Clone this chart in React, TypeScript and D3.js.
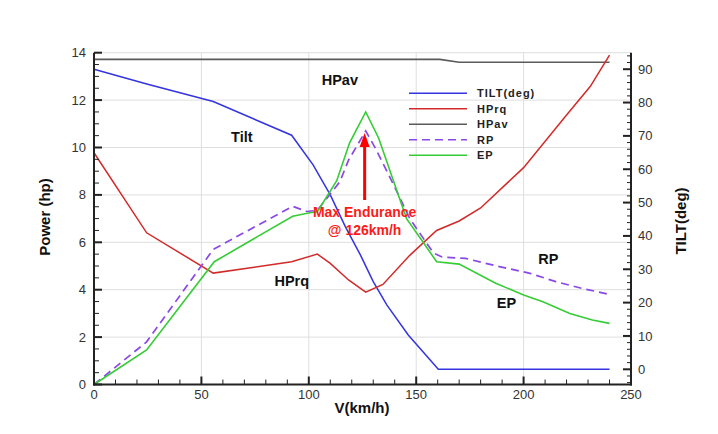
import React from "react";
import * as d3 from "d3";

// ---- data (V in km/h) ----
const tiltV = [0, 25, 55.5, 92, 102, 110, 117, 124, 130, 136.3, 146.3, 160.3, 240];
const tiltDeg = [90, 85.5, 80.3, 70.2, 61.3, 52.3, 42.8, 34.3, 26.3, 19.3, 10.3, 0, 0];

const hprqV = [0, 24.5, 55.5, 92, 104, 110, 118.5, 126.5, 134.5, 147, 159.5, 170, 180, 200, 220, 231, 240];
const hprqP = [9.78, 6.4, 4.7, 5.18, 5.5, 5.11, 4.41, 3.9, 4.22, 5.45, 6.5, 6.9, 7.45, 9.15, 11.37, 12.57, 13.9];

const hpavV = [0, 161, 170, 240];
const hpavP = [13.72, 13.72, 13.6, 13.6];

const rpV = [0, 24.5, 55.5, 92.5, 99, 104, 114.5, 118.5, 126.5, 131, 138, 147, 158, 162, 173, 187.5, 203, 215, 227, 240];
const rpP = [0, 1.8, 5.7, 7.52, 7.3, 7.35, 8.56, 9.47, 10.7, 9.97, 8.7, 7.0, 5.55, 5.38, 5.32, 5.0, 4.69, 4.34, 4.06, 3.8];

const epV = [0, 24.5, 56, 92.5, 100.5, 104, 113, 119, 126.5, 132.5, 139, 145.5, 152.5, 159.5, 170, 187, 200, 209, 221.5, 232, 240];
const epP = [0, 1.46, 5.18, 7.1, 7.25, 7.29, 8.6, 10.2, 11.5, 10.4, 8.7, 7.0, 6.1, 5.18, 5.08, 4.27, 3.78, 3.49, 3.0, 2.72, 2.58];

const xTicks = [0, 50, 100, 150, 200, 250];
const yLeftTicks = [0, 2, 4, 6, 8, 10, 12, 14];
const yRightTicks = [0, 10, 20, 30, 40, 50, 60, 70, 80, 90];

const legendLabels = ["TILT(deg)", "HPrq", "HPav", "RP", "EP"];
const legendColors = ["#3434e0", "#d22a2a", "#5a5a5a", "#8a48e6", "#36cc36"];
const legendDash = ["", "", "", "8,5", ""];

const annotations = [
  { text: "HPav", v: 106, p: 12.87 },
  { text: "Tilt", v: 63.8, p: 10.44 },
  { text: "HPrq", v: 84, p: 4.35 },
  { text: "RP", v: 206.8, p: 5.3 },
  { text: "EP", v: 187.5, p: 3.43 },
];
const maxV = 126;
const maxLabel1 = "Max Endurance";
const maxLabel2 = "@ 126km/h";

export default function App() {
  const W = 718, H = 434;
  const x = d3.scaleLinear().domain([0, 250]).range([94, 631]);
  const yL = d3.scaleLinear().domain([0, 14]).range([384.5, 52.7]);
  const yR = d3.scaleLinear().domain([0, 90]).range([369.3, 69.2]);
  const top = yL(14), bottom = yL(0), left = x(0), right = x(250);

  const lineL = (vs: number[], ps: number[]) =>
    d3.line<number>().x((_, i) => x(vs[i])).y((d) => yL(d))(ps) || "";
  const lineR = (vs: number[], ps: number[]) =>
    d3.line<number>().x((_, i) => x(vs[i])).y((d) => yR(d))(ps) || "";

  const xMinor = d3.range(0, 251, 10);
  const yLMinor = d3.range(0, 14.01, 0.5);
  const yRMinor = d3.range(-4, 95, 2);
  const font = "'Liberation Sans', Arial, sans-serif";
  const tickColor = "#333";

  return (
    <svg width={W} height={H} style={{ position: "absolute", left: 0, top: 0, background: "#fff" }} fontFamily={font}>
      {/* grid */}
      {xTicks.slice(1, -1).map((t) => (
        <line key={"gx" + t} x1={x(t)} x2={x(t)} y1={top} y2={bottom} stroke="#dedede" strokeWidth={1} />
      ))}
      {yLeftTicks.slice(1).map((t) => (
        <line key={"gy" + t} x1={left} x2={right} y1={yL(t)} y2={yL(t)} stroke="#dedede" strokeWidth={1} />
      ))}

      {/* series */}
      <path d={lineL(hpavV, hpavP)} fill="none" stroke={legendColors[2]} strokeWidth={1.6} />
      <path d={lineR(tiltV, tiltDeg)} fill="none" stroke={legendColors[0]} strokeWidth={1.5} />
      <path d={lineL(hprqV, hprqP)} fill="none" stroke={legendColors[1]} strokeWidth={1.5} />
      <path d={lineL(rpV, rpP)} fill="none" stroke={legendColors[3]} strokeWidth={1.7} strokeDasharray="8,5" />
      <path d={lineL(epV, epP)} fill="none" stroke={legendColors[4]} strokeWidth={1.6} />

      {/* axes */}
      <line x1={left} x2={left} y1={top} y2={bottom + 1} stroke="#222" strokeWidth={2} />
      <line x1={right} x2={right} y1={top} y2={bottom + 1} stroke="#222" strokeWidth={2} />
      <line x1={left - 1} x2={right + 1} y1={bottom} y2={bottom} stroke="#222" strokeWidth={2} />

      {yLMinor.map((t) => {
        const major = Math.abs(t - Math.round(t / 2) * 2) < 1e-6;
        return <line key={"lt" + t} x1={left} x2={left + (major ? 8 : 5)} y1={yL(t)} y2={yL(t)} stroke="#222" strokeWidth={major ? 2 : 1} />;
      })}
      {yRMinor.map((t) => {
        const major = t % 10 === 0;
        return <line key={"rt" + t} x1={right} x2={right - (major ? 8 : 4)} y1={yR(t)} y2={yR(t)} stroke="#222" strokeWidth={major ? 2 : 1} />;
      })}
      {xMinor.map((t) => {
        const major = t % 50 === 0;
        return <line key={"bt" + t} x1={x(t)} x2={x(t)} y1={bottom} y2={bottom - (major ? 8 : 5)} stroke="#222" strokeWidth={major ? 2 : 1} />;
      })}

      {yLeftTicks.map((t) => (
        <text key={"yl" + t} x={left - 8} y={yL(t)} dy="0.35em" textAnchor="end" fontSize={13} fill={tickColor}>{t}</text>
      ))}
      {yRightTicks.map((t) => (
        <text key={"yr" + t} x={right + 7} y={yR(t)} dy="0.35em" textAnchor="start" fontSize={13} fill={tickColor}>{t}</text>
      ))}
      {xTicks.map((t) => (
        <text key={"xt" + t} x={x(t)} y={bottom + 14} textAnchor="middle" fontSize={13} fill={tickColor}>{t}</text>
      ))}

      {/* axis titles */}
      <text x={362} y={413} textAnchor="middle" fontSize={15} fontWeight="bold" fill="#111">V(km/h)</text>
      <text transform={`translate(50,217) rotate(-90)`} textAnchor="middle" fontSize={15} fontWeight="bold" fill="#111">Power (hp)</text>
      <text transform={`translate(686,221) rotate(-90)`} textAnchor="middle" fontSize={15} fontWeight="bold" fill="#111">TILT(deg)</text>

      {/* legend */}
      {legendLabels.map((l, i) => {
        const yy = 93.3 + i * 15.5;
        return (
          <g key={"lg" + l}>
            <line x1={409} x2={467} y1={yy} y2={yy} stroke={legendColors[i]} strokeWidth={1.6} strokeDasharray={legendDash[i] || undefined} />
            <text x={477} y={yy} dy="0.36em" fontSize={11} fontWeight="bold" letterSpacing={1} fill="#222">{l}</text>
          </g>
        );
      })}

      {/* annotations */}
      {annotations.map((a) => (
        <text key={"an" + a.text} x={x(a.v)} y={yL(a.p)} dy="0.35em" fontSize={14.5} fontWeight="bold" fill="#111">{a.text}</text>
      ))}

      {/* max endurance arrow */}
      <line x1={x(maxV)} x2={x(maxV)} y1={200} y2={146} stroke="#ff0000" strokeWidth={3} />
      <path d={`M${x(maxV)},${133} L${x(maxV) - 5},${147} L${x(maxV) + 5},${147} Z`} fill="#ff0000" />
      <text x={x(maxV)} y={212} dy="0.35em" textAnchor="middle" fontSize={14} fontWeight="bold" fill="#ff1a1a">{maxLabel1}</text>
      <text x={x(maxV)} y={230} dy="0.35em" textAnchor="middle" fontSize={14} fontWeight="bold" fill="#ff1a1a">{maxLabel2}</text>
    </svg>
  );
}
